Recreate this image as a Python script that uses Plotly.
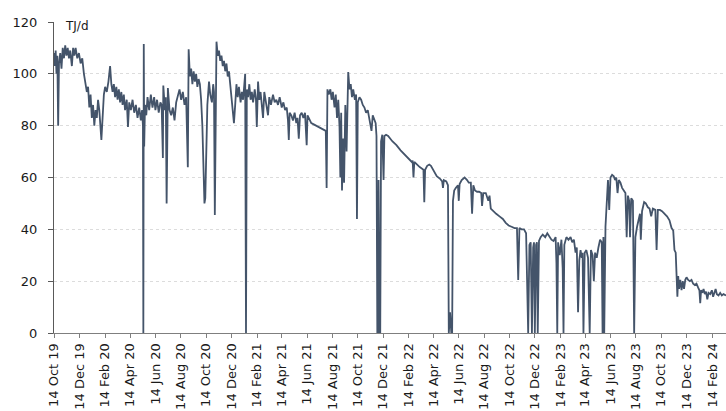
import plotly.graph_objects as go

# Daily flow readings (TJ/d), grouped by calendar year
dates_2019 = ["2019-10-14", "2019-10-16", "2019-10-18", "2019-10-20", "2019-10-22", "2019-10-24",
              "2019-10-26", "2019-10-29", "2019-11-01", "2019-11-04", "2019-11-07", "2019-11-10",
              "2019-11-13", "2019-11-16", "2019-11-19", "2019-11-22", "2019-11-26", "2019-11-29",
              "2019-12-02", "2019-12-05", "2019-12-09", "2019-12-13", "2019-12-17", "2019-12-21",
              "2019-12-25", "2019-12-29"]
flow_2019 = [108, 103, 109, 100, 107, 80,
             104, 108, 102, 110, 106, 111,
             107, 110, 106, 109, 103, 110,
             107, 110, 106, 108, 104, 106,
             100, 96]

dates_2020 = ["2020-01-01", "2020-01-04", "2020-01-07", "2020-01-10", "2020-01-13", "2020-01-16",
              "2020-01-19", "2020-01-22", "2020-01-25", "2020-01-28", "2020-01-31", "2020-02-05",
              "2020-02-08", "2020-02-11", "2020-02-14", "2020-02-18", "2020-02-22", "2020-02-26",
              "2020-02-29", "2020-03-03", "2020-03-06", "2020-03-09", "2020-03-12", "2020-03-15",
              "2020-03-18", "2020-03-21", "2020-03-24", "2020-03-27", "2020-03-30", "2020-04-02",
              "2020-04-06", "2020-04-09", "2020-04-12", "2020-04-16", "2020-04-20", "2020-04-24",
              "2020-04-28", "2020-05-02", "2020-05-06", "2020-05-10", "2020-05-13", "2020-05-15",
              "2020-05-16", "2020-05-17", "2020-05-18", "2020-05-20", "2020-05-23", "2020-05-26",
              "2020-05-30", "2020-06-03", "2020-06-07", "2020-06-11", "2020-06-14", "2020-06-18",
              "2020-06-22", "2020-06-26", "2020-06-29", "2020-07-02", "2020-07-03", "2020-07-07",
              "2020-07-09", "2020-07-11", "2020-07-14", "2020-07-18", "2020-07-22", "2020-07-26",
              "2020-07-30", "2020-08-03", "2020-08-07", "2020-08-11", "2020-08-15", "2020-08-19",
              "2020-08-23", "2020-08-27", "2020-08-31", "2020-09-02", "2020-09-05", "2020-09-08",
              "2020-09-11", "2020-09-14", "2020-09-17", "2020-09-20", "2020-09-23", "2020-09-26",
              "2020-09-29", "2020-10-02", "2020-10-05", "2020-10-08", "2020-10-10", "2020-10-12",
              "2020-10-15", "2020-10-17", "2020-10-21", "2020-10-24", "2020-10-28", "2020-10-31",
              "2020-11-02", "2020-11-04", "2020-11-08", "2020-11-11", "2020-11-14", "2020-11-17",
              "2020-11-20", "2020-11-23", "2020-11-26", "2020-11-29", "2020-12-02", "2020-12-05",
              "2020-12-08", "2020-12-11", "2020-12-14", "2020-12-17", "2020-12-20", "2020-12-23",
              "2020-12-26", "2020-12-29"]
flow_2020 = [93, 95, 87, 92, 83, 88,
             80, 86, 83, 90, 86, 74.5,
             86, 92, 95, 93, 97, 103,
             96, 93, 96, 91, 95, 90,
             94, 89, 93, 88, 92, 86,
             90, 79.5, 89, 86, 90, 85,
             88, 83, 87, 82, 86, 80,
             0, 111.5, 72, 88, 84, 91,
             86, 92, 87, 91, 86, 90,
             85, 89, 88, 67.5, 95.5, 86,
             91, 50, 94.5, 86, 84, 87,
             82, 89, 92, 94, 90, 93,
             88, 91, 64, 109.5, 99, 102,
             96, 101, 97, 100, 95, 98,
             96, 90, 80, 55, 50, 52,
             75, 88, 97, 92, 89, 96,
             93, 45.5, 112.4, 107, 109, 105,
             107, 103, 105, 101, 104, 99,
             101, 96, 89, 85, 81, 88,
             96, 91]

dates_2021 = ["2021-01-01", "2021-01-05", "2021-01-08", "2021-01-11", "2021-01-14", "2021-01-16",
              "2021-01-18", "2021-01-20", "2021-01-23", "2021-01-26", "2021-01-29", "2021-02-01",
              "2021-02-04", "2021-02-08", "2021-02-11", "2021-02-13", "2021-02-16", "2021-02-19",
              "2021-02-22", "2021-02-25", "2021-02-28", "2021-03-03", "2021-03-07", "2021-03-12",
              "2021-03-15", "2021-03-19", "2021-03-24", "2021-03-28", "2021-04-01", "2021-04-05",
              "2021-04-09", "2021-04-14", "2021-04-18", "2021-04-22", "2021-04-26", "2021-04-29",
              "2021-05-01", "2021-05-03", "2021-05-07", "2021-05-11", "2021-05-15", "2021-05-19",
              "2021-05-22", "2021-05-25", "2021-05-28", "2021-06-01", "2021-06-05", "2021-06-09",
              "2021-06-13", "2021-06-15", "2021-06-18", "2021-06-24", "2021-06-30", "2021-07-06",
              "2021-07-12", "2021-07-18", "2021-07-24", "2021-07-29", "2021-07-31", "2021-08-02",
              "2021-08-05", "2021-08-09", "2021-08-12", "2021-08-15", "2021-08-19", "2021-08-22",
              "2021-08-25", "2021-08-28", "2021-08-31", "2021-09-02", "2021-09-04", "2021-09-06",
              "2021-09-09", "2021-09-11", "2021-09-14", "2021-09-17", "2021-09-21", "2021-09-24",
              "2021-09-27", "2021-09-30", "2021-10-03", "2021-10-07", "2021-10-10", "2021-10-12",
              "2021-10-14", "2021-10-18", "2021-10-22", "2021-10-26", "2021-10-30", "2021-11-03",
              "2021-11-07", "2021-11-11", "2021-11-16", "2021-11-19", "2021-11-23", "2021-11-26",
              "2021-11-28", "2021-11-30", "2021-12-02", "2021-12-03", "2021-12-05", "2021-12-07",
              "2021-12-09", "2021-12-12", "2021-12-15", "2021-12-17", "2021-12-21", "2021-12-26"]
flow_2021 = [95, 89, 93, 90, 97, 100,
             0, 94, 91, 96, 90, 93,
             89, 94, 90, 79.5, 97, 90,
             93, 89, 83, 93, 88, 84,
             91, 88, 92, 89, 90, 88,
             91, 87, 89, 86, 87, 82,
             74.5, 85, 84, 82, 85, 81,
             83, 75, 84, 85, 83, 85,
             72.5, 84, 83, 81, 80.5, 80,
             79.5, 79, 78.5, 78, 56, 94,
             92, 94, 90, 93, 87, 92,
             83, 90, 79.5, 60, 85, 55,
             75, 58, 88, 70, 100.7, 94,
             96, 91, 94, 90, 92, 44,
             89, 91, 90, 88, 87, 85,
             86, 83, 78, 84, 82, 81,
             76, 0, 0, 59, 0, 0,
             74, 76.5, 59, 76, 76.5, 76]

dates_2022 = ["2022-01-05", "2022-01-15", "2022-01-25", "2022-02-05", "2022-02-15", "2022-02-21",
              "2022-02-23", "2022-02-25", "2022-02-27", "2022-03-05", "2022-03-12", "2022-03-17",
              "2022-03-21", "2022-03-23", "2022-03-25", "2022-03-30", "2022-04-04", "2022-04-08",
              "2022-04-14", "2022-04-22", "2022-04-30", "2022-05-05", "2022-05-07", "2022-05-09",
              "2022-05-15", "2022-05-19", "2022-05-21", "2022-05-24", "2022-05-27", "2022-05-29",
              "2022-05-31", "2022-06-03", "2022-06-07", "2022-06-12", "2022-06-14", "2022-06-16",
              "2022-06-21", "2022-06-28", "2022-07-04", "2022-07-08", "2022-07-13", "2022-07-16",
              "2022-07-19", "2022-07-23", "2022-07-28", "2022-08-02", "2022-08-07", "2022-08-09",
              "2022-08-12", "2022-08-18", "2022-08-24", "2022-08-27", "2022-08-30", "2022-09-05",
              "2022-09-12", "2022-09-20", "2022-09-28", "2022-10-05", "2022-10-12", "2022-10-19",
              "2022-10-26", "2022-11-01", "2022-11-04", "2022-11-07", "2022-11-12", "2022-11-18",
              "2022-11-23", "2022-11-28", "2022-12-01", "2022-12-04", "2022-12-07", "2022-12-10",
              "2022-12-12", "2022-12-14", "2022-12-17", "2022-12-19", "2022-12-21", "2022-12-24",
              "2022-12-28"]
flow_2022 = [74, 72.5, 70.5, 68.5, 67, 66,
             66.5, 60, 66, 65, 64, 63.5,
             63, 50.5, 63, 64.5, 65, 64.5,
             62.5, 60.5, 59.5, 58.5, 56, 59,
             58.5, 57, 0, 8, 0, 0,
             51, 55, 56, 57, 51, 57.5,
             59, 60, 59, 58, 58, 46,
             57, 55, 54.5, 54.5, 54, 49,
             54, 54, 51, 53, 48, 47,
             46, 45, 44, 42.5, 41.5, 41,
             40.5, 40.5, 20.5, 40.5, 40, 40,
             38.5, 0, 34, 35, 0, 33,
             35, 0, 34, 35, 0, 35.5,
             37]

dates_2023 = ["2023-01-02", "2023-01-08", "2023-01-13", "2023-01-18", "2023-01-23", "2023-01-28",
              "2023-02-02", "2023-02-04", "2023-02-06", "2023-02-08", "2023-02-12", "2023-02-16",
              "2023-02-19", "2023-02-21", "2023-02-23", "2023-02-28", "2023-03-05", "2023-03-10",
              "2023-03-14", "2023-03-18", "2023-03-22", "2023-03-25", "2023-03-28", "2023-03-31",
              "2023-04-03", "2023-04-06", "2023-04-08", "2023-04-10", "2023-04-13", "2023-04-17",
              "2023-04-21", "2023-04-25", "2023-04-28", "2023-05-02", "2023-05-05", "2023-05-08",
              "2023-05-12", "2023-05-16", "2023-05-20", "2023-05-24", "2023-05-26", "2023-05-28",
              "2023-05-30", "2023-06-02", "2023-06-05", "2023-06-08", "2023-06-11", "2023-06-14",
              "2023-06-18", "2023-06-22", "2023-06-25", "2023-06-28", "2023-07-01", "2023-07-04",
              "2023-07-08", "2023-07-12", "2023-07-16", "2023-07-20", "2023-07-23", "2023-07-26",
              "2023-07-29", "2023-07-31", "2023-08-03", "2023-08-07", "2023-08-10", "2023-08-13",
              "2023-08-17", "2023-08-21", "2023-08-24", "2023-08-26", "2023-08-29", "2023-09-03",
              "2023-09-07", "2023-09-12", "2023-09-16", "2023-09-20", "2023-09-24", "2023-09-30",
              "2023-10-03", "2023-10-06", "2023-10-11", "2023-10-16", "2023-10-22", "2023-10-28",
              "2023-11-03", "2023-11-08", "2023-11-12", "2023-11-15", "2023-11-18", "2023-11-20",
              "2023-11-22", "2023-11-24", "2023-11-26", "2023-11-29", "2023-12-02", "2023-12-05",
              "2023-12-08", "2023-12-11", "2023-12-14", "2023-12-18", "2023-12-22", "2023-12-26",
              "2023-12-30"]
flow_2023 = [38, 37, 38.5, 37, 36, 35.5,
             37, 27, 0, 35, 30, 36,
             25, 0, 34, 37, 36, 37,
             35, 36, 31, 33, 8, 28,
             32, 29, 31, 0, 31, 32,
             29, 0, 32, 30, 20, 31,
             29, 33, 36, 35, 0, 37,
             0, 41, 52, 59, 47.5, 60,
             61, 60.5, 59, 60, 54, 59,
             58, 56, 55, 54, 37, 53,
             51, 37, 52, 51, 0, 37,
             41, 44, 46, 36, 47, 50.5,
             50, 48.5, 48, 45, 48, 47.5,
             32, 47.5, 47.5, 47, 46, 45,
             43.5, 40.5, 39.5, 32, 31, 24,
             14, 22, 17, 20.5, 16.5, 20,
             17, 20.5, 21.5, 20.5, 20, 20.5,
             19]

dates_2024 = ["2024-01-03", "2024-01-07", "2024-01-11", "2024-01-14", "2024-01-16", "2024-01-18",
              "2024-01-21", "2024-01-24", "2024-01-27", "2024-01-30", "2024-02-02", "2024-02-05",
              "2024-02-09", "2024-02-13", "2024-02-16", "2024-02-19", "2024-02-22", "2024-02-25",
              "2024-02-29", "2024-03-04", "2024-03-08", "2024-03-12", "2024-03-16", "2024-03-18"]
flow_2024 = [18.5, 19, 17.5, 16.5, 11.5, 16.5,
             15.5, 17, 15, 16, 13, 15.5,
             15, 16.5, 14, 15.5, 17, 15,
             14.5, 15.5, 14.5, 15, 14.5, 14.5]

# Bi-monthly date ticks
tick_dates = ["2019-10-14", "2019-12-14", "2020-02-14", "2020-04-14", "2020-06-14", "2020-08-14",
              "2020-10-14", "2020-12-14", "2021-02-14", "2021-04-14", "2021-06-14", "2021-08-14",
              "2021-10-14", "2021-12-14", "2022-02-14", "2022-04-14", "2022-06-14", "2022-08-14",
              "2022-10-14", "2022-12-14", "2023-02-14", "2023-04-14", "2023-06-14", "2023-08-14",
              "2023-10-14", "2023-12-14", "2024-02-14"]
tick_labels = ["14 Oct 19", "14 Dec 19", "14 Feb 20", "14 Apr 20", "14 Jun 20", "14 Aug 20",
               "14 Oct 20", "14 Dec 20", "14 Feb 21", "14 Apr 21", "14 Jun 21", "14 Aug 21",
               "14 Oct 21", "14 Dec 21", "14 Feb 22", "14 Apr 22", "14 Jun 22", "14 Aug 22",
               "14 Oct 22", "14 Dec 22", "14 Feb 23", "14 Apr 23", "14 Jun 23", "14 Aug 23",
               "14 Oct 23", "14 Dec 23", "14 Feb 24"]
y_ticks = [0, 20, 40, 60, 80, 100, 120]

dates = dates_2019 + dates_2020 + dates_2021 + dates_2022 + dates_2023 + dates_2024
flow = flow_2019 + flow_2020 + flow_2021 + flow_2022 + flow_2023 + flow_2024

FONT = "DejaVu Sans"
LINE_COLOR = "#44546A"

fig = go.Figure()
fig.add_trace(go.Scatter(
    x=dates, y=flow, mode="lines",
    line=dict(color=LINE_COLOR, width=1.8),
    showlegend=False, hoverinfo="x+y",
))

fig.add_annotation(
    text="TJ/d", xref="paper", yref="y", x=0.013, y=118.6,
    xanchor="left", yanchor="middle", showarrow=False,
    font=dict(family=FONT, size=12, color="#1a1a1a"),
)

fig.update_layout(
    width=726, height=411,
    margin=dict(l=54, r=0, t=22, b=78, pad=0),
    paper_bgcolor="white", plot_bgcolor="white",
    font=dict(family=FONT, size=13, color="#1a1a1a"),
    xaxis=dict(
        type="date", range=["2019-10-14", "2024-03-18"],
        tickmode="array", tickvals=tick_dates, ticktext=tick_labels,
        tickangle=-90, ticks="outside", ticklen=4, tickcolor="#7f7f7f",
        showline=True, linecolor="#7f7f7f", linewidth=1,
        showgrid=False, zeroline=False,
        tickfont=dict(family=FONT, size=13, color="#1a1a1a"),
    ),
    yaxis=dict(
        range=[0, 120], tickmode="array", tickvals=y_ticks,
        ticks="outside", ticklen=5, tickcolor="#595959",
        showline=True, linecolor="#595959", linewidth=1,
        showgrid=True, gridcolor="#dcdcdc", griddash="dot", gridwidth=1,
        zeroline=False, ticklabelstandoff=8,
        tickfont=dict(family=FONT, size=13, color="#1a1a1a"),
    ),
)

fig.write_html("out.html")
